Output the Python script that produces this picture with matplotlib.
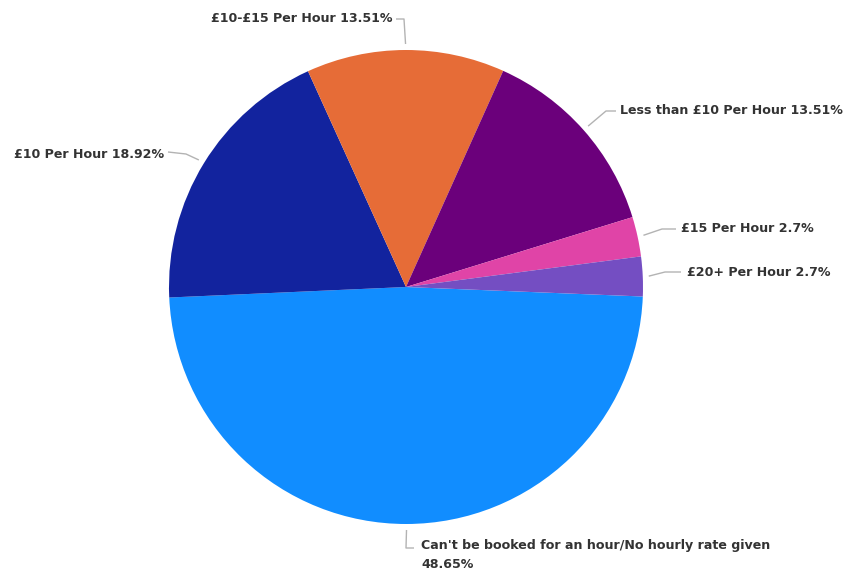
import numpy as np
import matplotlib.pyplot as plt

plt.rcParams['font.family'] = ['DejaVu Sans']

labels = ["Can't be booked for an hour/No hourly rate given", "£10 Per Hour",
          "£10-£15 Per Hour", "Less than £10 Per Hour", "£15 Per Hour", "£20+ Per Hour"]
shares = [48.65, 18.92, 13.51, 13.51, 2.7, 2.7]
colors = ["#118DFF", "#12239E", "#E66C37", "#6B007B", "#E044A7", "#744EC2"]

W, H = 846, 573
cx, cy, R = 406, H - 287, 237

# label layout in pixel coords (top-left origin): elbow point, text anchor, alignment
elbows = [(406, 548), (186, 154), (404, 19), (606, 111), (662, 229), (665, 272)]
line_ends = [(414, 548), (168, 152), (396, 19), (616, 111), (676, 229), (681, 272)]
text_pos = [(421, 555), (164, 154), (392, 18), (620, 111), (681, 229), (687, 272)]
text_ha = ["left", "right", "right", "left", "left", "left"]

fig = plt.figure(figsize=(W / 100, H / 100), dpi=100)
ax = fig.add_axes([0, 0, 1, 1])

wedges, _ = ax.pie(shares, colors=colors, center=(cx, cy), radius=R,
                   startangle=-2.3, counterclock=False,
                   wedgeprops=dict(linewidth=0))

# pie() resets the view, so fix the limits afterwards
ax.set_xlim(0, W)
ax.set_ylim(0, H)
ax.set_aspect("equal")
ax.axis("off")

for w, lab, val, el, le, tp, ha in zip(wedges, labels, shares, elbows,
                                        line_ends, text_pos, text_ha):
    mid = np.deg2rad((w.theta1 + w.theta2) / 2)
    sx, sy = cx + (R + 6) * np.cos(mid), cy + (R + 6) * np.sin(mid)
    ax.plot([sx, el[0], le[0]], [sy, H - el[1], H - le[1]],
            color="#b3b3b3", lw=1, solid_capstyle="butt")
    sep = "\n" if len(lab) > 30 else " "
    ax.text(tp[0], H - tp[1], f"{lab}{sep}{val:g}%", ha=ha, va="center",
            fontsize=9.1, fontweight="bold", color="#333333", linespacing=1.5)

fig.savefig("out.png", dpi=100)
